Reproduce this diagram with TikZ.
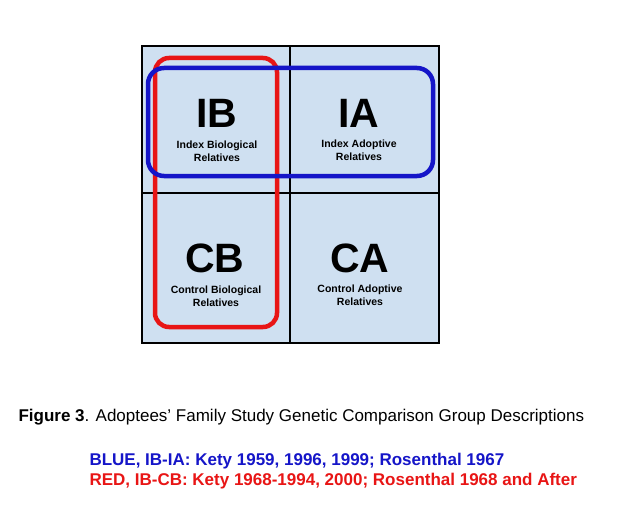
\documentclass[tikz,border=0pt]{standalone}
\usepackage{fontspec}
\setmainfont{Liberation Sans}
\definecolor{cellfill}{HTML}{CFE0F1}
\definecolor{myblue}{HTML}{1515C8}
\definecolor{myred}{HTML}{E81515}
\begin{document}
\begin{tikzpicture}[x=1pt,y=-1pt,
 big/.style={font=\fontsize{41}{41}\selectfont\bfseries},
 small/.style={font=\fontsize{10.5}{13}\selectfont\bfseries,align=center},
 cell/.style={draw=black,line width=2.5pt,fill=cellfill}]
\useasboundingbox (0,0) rectangle (624,527);
\draw[cell] (142,46) rectangle (290,193);
\draw[cell] (290,46) rectangle (439,193);
\draw[cell] (142,193) rectangle (290,343);
\draw[cell] (290,193) rectangle (439,343);
\draw[myred,line width=4.5pt,rounded corners=14pt] (155,58) rectangle (277,327);
\draw[myblue,line width=4.5pt,rounded corners=16pt] (148,68) rectangle (433,176);
\node[big] (ib) at (217,113) {IB};
\node[small] (ibl) at (217,151) {Index Biological\\Relatives};
\node[big] (ia) at (359,113) {IA};
\node[small] (ial) at (359,150) {Index Adoptive\\Relatives};
\node[big] (cb) at (215,258) {CB};
\node[small] (cbl) at (216,296) {Control Biological\\Relatives};
\node[big] (ca) at (360,258) {CA};
\node[small] (cal) at (360,295) {Control Adoptive\\Relatives};
\node[anchor=west,font=\fontsize{17}{20}\selectfont] (fig) at (15,417) {\textbf{Figure 3}. Adoptees’ Family Study Genetic Comparison Group Descriptions};
\node[anchor=west,font=\fontsize{17}{20}\selectfont\bfseries,text=myblue] (bl) at (86,461) {BLUE, IB-IA: Kety 1959, 1996, 1999; Rosenthal 1967};
\node[anchor=west,font=\fontsize{17}{20}\selectfont\bfseries,text=myred] (rd) at (86,481) {RED, IB-CB: Kety 1968-1994, 2000; Rosenthal 1968 and After};
\end{tikzpicture}
\end{document}
